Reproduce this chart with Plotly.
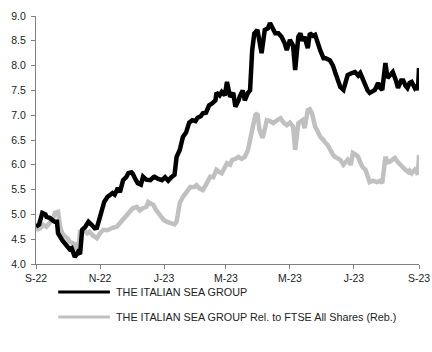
import pandas as pd
import plotly.graph_objects as go

start = pd.Timestamp("2022-09-01")

# pixel-read positions converted to day offsets from 2022-09-01
black_x = [36,39,42,45,47,50,53,55,57,58,62,65,67,70,72,75,78,80,82,85,88,90,92,95,97,100,102,104,107,110,113,115,118,120,123,126,128,131,133,136,138,141,143,146,150,153,155,158,162,165,168,171,174,177,180,183,186,189,192,195,198,201,203,206,209,212,215,217,220,222,225,227,230,233,235,238,240,243,245,248,250,252,254,257,260,262,265,268,270,273,275,278,282,285,287,290,293,295,298,300,303,305,308,310,313,315,318,320,323,326,330,333,335,338,340,343,346,348,352,355,358,360,363,365,368,370,373,375,378,380,382,385,388,390,393,396,398,401,403,405,407,410,412,415,417,418,419]
black_v = [4.75,4.8,5.03,5.0,4.95,4.93,4.88,4.85,4.85,4.62,4.48,4.4,4.34,4.3,4.32,4.14,4.24,4.2,4.69,4.75,4.85,4.82,4.79,4.72,4.73,4.95,5.13,5.25,5.35,5.4,5.43,5.4,5.53,5.45,5.69,5.75,5.83,5.85,5.83,5.7,5.63,5.6,5.76,5.7,5.69,5.75,5.76,5.72,5.69,5.75,5.68,5.75,5.8,6.16,6.3,6.56,6.65,6.85,6.9,6.88,6.95,6.98,7.04,7.05,7.2,7.24,7.3,7.45,7.4,7.47,7.4,7.67,7.37,7.45,7.17,7.3,7.37,7.5,7.3,7.45,7.5,8.3,8.65,8.72,8.45,8.25,8.72,8.75,8.86,8.75,8.65,8.65,8.58,8.45,8.31,8.52,8.4,7.91,8.58,8.65,8.5,8.58,8.35,8.65,8.6,8.62,8.38,8.3,8.15,8.15,8.11,8.0,7.87,7.7,7.57,7.51,7.7,7.81,7.85,7.87,7.8,7.85,7.7,7.57,7.5,7.45,7.5,7.51,7.65,7.55,7.51,8.05,7.75,7.8,7.87,7.7,7.55,7.7,7.7,7.6,7.55,7.65,7.67,7.55,7.6,7.5,7.95]

grey_x = [36,40,43,47,50,53,55,58,60,62,65,67,70,73,75,77,79,80,84,87,90,93,97,100,103,107,110,113,117,120,123,127,130,133,137,140,143,146,148,151,153,156,158,161,164,167,170,174,177,180,183,186,190,194,197,200,203,206,210,213,217,220,222,225,227,230,232,235,238,242,245,248,251,253,255,257,260,263,265,267,270,273,277,280,284,287,290,293,295,298,302,305,308,310,312,315,318,320,323,325,328,330,333,335,338,340,343,346,348,351,353,356,358,360,362,365,367,370,373,377,380,382,385,388,390,393,395,398,400,403,405,408,410,412,415,417,418,419]
grey_v = [4.69,4.72,4.79,4.75,4.83,4.9,5.03,5.05,4.75,4.62,4.55,4.52,4.45,4.42,4.4,4.28,4.45,4.65,4.68,4.62,4.65,4.58,4.52,4.62,4.69,4.68,4.72,4.73,4.75,4.83,4.9,5.0,5.09,5.12,5.15,5.08,5.13,5.15,5.25,5.2,5.19,5.1,5.05,4.95,4.88,4.85,4.82,4.8,4.85,5.23,5.35,5.45,5.55,5.55,5.59,5.52,5.49,5.6,5.76,5.75,5.9,5.85,5.83,5.95,6.03,6.0,6.1,6.12,6.16,6.12,6.16,6.3,6.6,6.84,7.0,7.04,6.7,6.54,6.7,6.9,6.88,6.84,6.9,6.94,6.85,6.8,6.85,6.77,6.3,6.84,6.9,6.74,7.1,7.12,7.04,6.77,6.65,6.56,6.5,6.46,6.4,6.3,6.2,6.16,6.12,6.1,6.0,6.05,6.1,6.0,6.24,6.2,6.16,6.05,5.96,5.9,5.83,5.65,5.68,5.65,5.68,5.63,6.16,6.05,6.06,6.1,6.14,6.05,6.0,5.95,5.9,5.85,5.88,5.83,5.9,5.85,5.8,6.2]

tick_dates = ["2022-09-01", "2022-11-01", "2023-01-01", "2023-03-01", "2023-05-01", "2023-07-01", "2023-09-01"]
tick_labels = ["S-22", "N-22", "J-23", "M-23", "M-23", "J-23", "S-23"]
series_names = ["THE ITALIAN SEA GROUP", "THE ITALIAN SEA GROUP Rel. to FTSE All Shares (Reb.)"]


def to_dates(xs):
    return [start + pd.Timedelta(days=round((x - 36) / 1.0493)) for x in xs]


fig = go.Figure()
fig.add_trace(go.Scatter(x=to_dates(grey_x), y=grey_v, mode="lines",
                         line=dict(color="#c0c0c0", width=4.5), name=series_names[1]))
fig.add_trace(go.Scatter(x=to_dates(black_x), y=black_v, mode="lines",
                         line=dict(color="#000000", width=4.5), name=series_names[0]))

font = dict(family="Arial, Liberation Sans, sans-serif", size=10.5, color="#222222")

fig.update_layout(
    width=432, height=352,
    margin=dict(l=36, r=13, t=16, b=88),
    paper_bgcolor="white", plot_bgcolor="white",
    showlegend=False,
    font=font,
    xaxis=dict(range=["2022-09-01", "2023-09-01"], tickvals=tick_dates, ticktext=tick_labels,
               showgrid=False, zeroline=False, showline=True, linecolor="#808080", linewidth=1,
               ticks="outside", ticklen=4, tickcolor="#808080", tickfont=font, automargin=False),
    yaxis=dict(range=[4, 9], dtick=0.5, tick0=4, tickformat=".1f",
               showgrid=False, zeroline=False, showline=True, linecolor="#808080", linewidth=1,
               ticks="outside", ticklen=4, tickcolor="#808080", tickfont=font,
               ticklabelstandoff=3, automargin=False),
)

# manual legend below the plot
legend_y = [-0.113, -0.214]
legend_colors = ["#000000", "#c0c0c0"]
for name, color, ly in zip(series_names, legend_colors, legend_y):
    fig.add_shape(type="line", xref="paper", yref="paper",
                  x0=0.058, x1=0.193, y0=ly, y1=ly,
                  line=dict(color=color, width=3))
    fig.add_annotation(xref="paper", yref="paper", x=0.203, y=ly, text=name,
                       showarrow=False, xanchor="left", yanchor="middle",
                       font=dict(family="Arial, Liberation Sans, sans-serif", size=10.8, color="#222222"))

fig.write_html("out.html")
